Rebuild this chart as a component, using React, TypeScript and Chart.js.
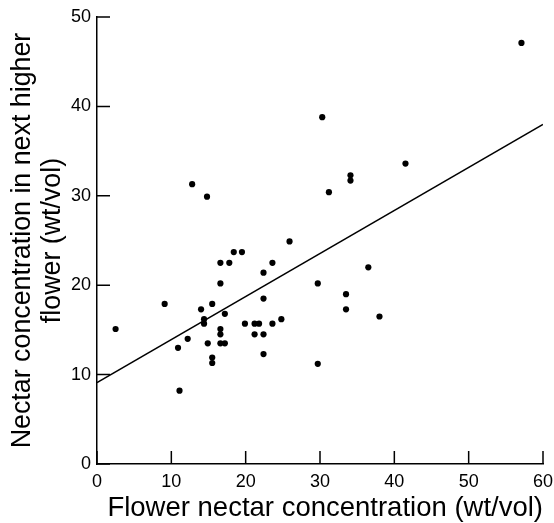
import React, { useEffect, useRef } from "react";
import { Chart, registerables } from "chart.js";

Chart.register(...registerables);

// Flower nectar concentration (wt/vol)
const flowerX = [
  12.8, 14.8, 25.9, 18.4, 19.5, 16.6, 17.8, 23.6, 22.4, 16.6,
  9.1, 14.0, 15.5, 22.4, 17.2, 14.4, 14.4, 2.5, 19.9, 21.2,
  21.8, 23.6, 24.8, 16.6, 16.6, 21.2, 22.4, 12.2, 10.9, 14.9,
  16.6, 17.2, 15.5, 15.5, 22.4, 11.1, 30.3, 41.5, 34.1, 34.1,
  31.2, 36.5, 29.7, 33.5, 33.5, 38.0, 29.7, 57.1,
];
// Nectar concentration in next higher flower (wt/vol)
const nextY = [
  31.3, 29.9, 24.9, 23.7, 23.7, 22.5, 22.5, 22.5, 21.4, 20.2,
  17.9, 17.3, 17.9, 18.5, 16.8, 16.2, 15.7, 15.1, 15.7, 15.7,
  15.7, 15.7, 16.2, 15.1, 14.5, 14.5, 14.5, 14.0, 13.0, 13.5,
  13.5, 13.5, 11.9, 11.3, 12.3, 8.2, 38.8, 33.6, 32.3, 31.7,
  30.4, 22.0, 20.2, 19.0, 17.3, 16.5, 11.2, 47.1,
];
// Regression line endpoints
const fitX = [0, 60];
const fitY = [9.1, 38.0];

const xTitle = "Flower nectar concentration (wt/vol)";
const yTitle = ["Nectar concentration in next higher", "flower (wt/vol)"];

const FONT = "'Liberation Sans', Arial, sans-serif";
const TICK_LEN = 13;

const innerTicks = {
  id: "innerTicks",
  afterDraw(chart: any) {
    const { ctx, chartArea } = chart;
    const xs = chart.scales.x;
    const ys = chart.scales.y;
    ctx.save();
    ctx.strokeStyle = "#000";
    ctx.lineWidth = 1.5;
    ctx.beginPath();
    xs.ticks.forEach((t: any) => {
      const px = xs.getPixelForValue(t.value);
      ctx.moveTo(px, chartArea.bottom);
      ctx.lineTo(px, chartArea.bottom - TICK_LEN);
    });
    ys.ticks.forEach((t: any) => {
      const py = ys.getPixelForValue(t.value);
      ctx.moveTo(chartArea.left, py);
      ctx.lineTo(chartArea.left + TICK_LEN, py);
    });
    ctx.stroke();
    ctx.restore();
  },
};

export default function App() {
  const ref = useRef<HTMLCanvasElement | null>(null);
  useEffect(() => {
    document.body.style.margin = "0";
    const ctx = ref.current!;
    const chart = new Chart(ctx, {
      type: "scatter",
      data: {
        datasets: [
          {
            type: "scatter",
            data: flowerX.map((x, i) => ({ x, y: nextY[i] })),
            backgroundColor: "#000",
            borderColor: "#000",
            pointRadius: 3.1,
            pointHoverRadius: 3.1,
            borderWidth: 0,
          },
          {
            type: "line",
            data: fitX.map((x, i) => ({ x, y: fitY[i] })),
            borderColor: "#000",
            borderWidth: 1.5,
            pointRadius: 0,
            showLine: true,
            fill: false,
          } as any,
        ],
      },
      options: {
        responsive: false,
        animation: false,
        layout: { padding: { top: 17, right: 11, left: 0, bottom: 0 } },
        plugins: { legend: { display: false }, tooltip: { enabled: false } },
        scales: {
          x: {
            type: "linear",
            min: 0,
            max: 60,
            ticks: {
              stepSize: 10,
              color: "#000",
              padding: 7.5,
              font: { family: FONT, size: 18 },
            },
            grid: {
              display: false,
              drawOnChartArea: false,
              drawTicks: false,
              tickLength: 0,
            },
            border: { display: true, color: "#000", width: 1.5 },
            title: {
              display: true,
              text: xTitle,
              color: "#000",
              align: "end",
              font: { family: FONT, size: 27.5, lineHeight: "27.5px" },
              padding: { top: 0, bottom: 1 },
            },
            afterFit: (s: any) => {
              s.height = 59;
              s.paddingLeft = 0;
              s.paddingRight = 0;
            },
          },
          y: {
            type: "linear",
            min: 0,
            max: 50,
            ticks: {
              stepSize: 10,
              color: "#000",
              padding: 6,
              font: { family: FONT, size: 18 },
            },
            grid: {
              display: false,
              drawOnChartArea: false,
              drawTicks: false,
              tickLength: 0,
            },
            border: { display: true, color: "#000", width: 1.5 },
            title: {
              display: true,
              text: yTitle,
              color: "#000",
              font: { family: FONT, size: 26.8, lineHeight: "30px" },
              padding: { top: 7.9, bottom: 0 },
            },
            afterFit: (s: any) => {
              s.width = 97;
              s.paddingTop = 0;
              s.paddingBottom = 0;
            },
          },
        },
      },
      plugins: [innerTicks],
    });
    return () => chart.destroy();
  }, []);
  return (
    <div style={{ position: "absolute", left: 0, top: 0, width: 554, height: 523 }}>
      <canvas ref={ref} width={554} height={523} />
    </div>
  );
}
